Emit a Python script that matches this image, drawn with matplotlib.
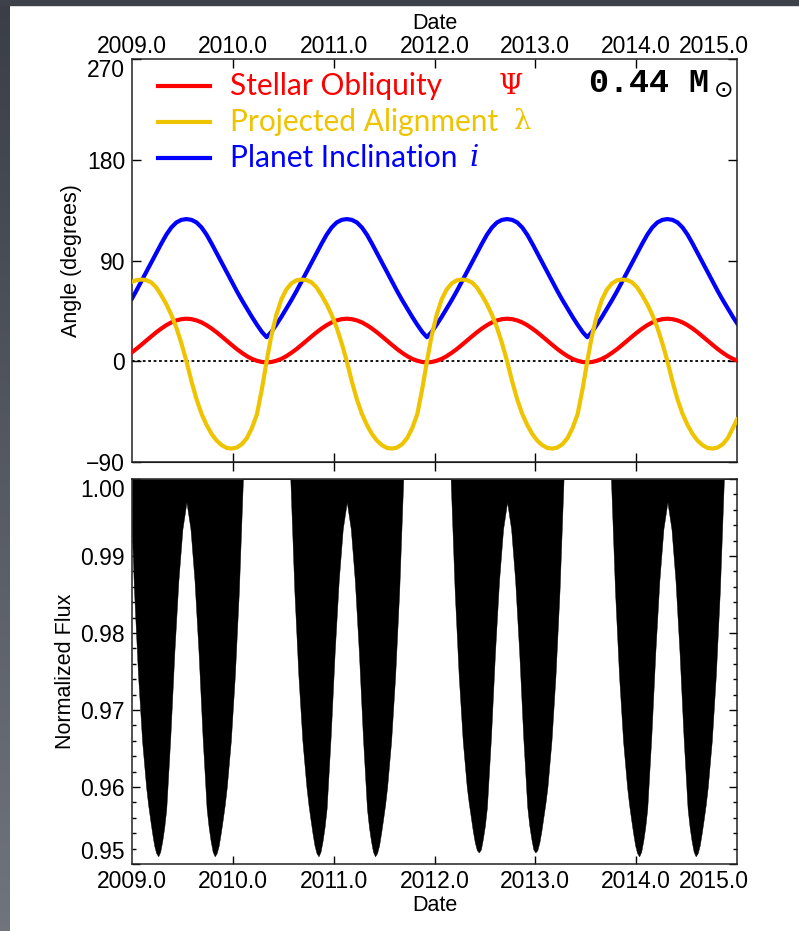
import numpy as np
import matplotlib
matplotlib.use('Agg')
import matplotlib.pyplot as plt
from matplotlib.patches import Rectangle
from matplotlib.ticker import MultipleLocator

plt.rcParams['font.family'] = 'Liberation Sans'

# Angles (degrees), one date list shared by all three curves
dates = [2009.00, 2009.04, 2009.09, 2009.14, 2009.19, 2009.24, 2009.29, 2009.34, 2009.39, 2009.44,
         2009.49, 2009.54, 2009.59, 2009.64, 2009.69, 2009.74, 2009.79, 2009.84, 2009.89, 2009.94,
         2009.99, 2010.04, 2010.09, 2010.14, 2010.19, 2010.24, 2010.29, 2010.335,
         2010.38, 2010.43, 2010.48, 2010.53, 2010.58, 2010.63, 2010.68, 2010.73, 2010.78, 2010.83,
         2010.88, 2010.93, 2010.98, 2011.03, 2011.08, 2011.13, 2011.18, 2011.23, 2011.28, 2011.33,
         2011.38, 2011.43, 2011.48, 2011.53, 2011.58, 2011.63, 2011.68, 2011.73, 2011.78, 2011.83,
         2011.88, 2011.925,
         2011.97, 2012.02, 2012.07, 2012.12, 2012.17, 2012.22, 2012.27, 2012.32, 2012.37, 2012.42,
         2012.47, 2012.52, 2012.57, 2012.62, 2012.67, 2012.72, 2012.77, 2012.82, 2012.87, 2012.92,
         2012.97, 2013.02, 2013.07, 2013.12, 2013.17, 2013.22, 2013.27, 2013.32, 2013.37, 2013.42,
         2013.47, 2013.515,
         2013.56, 2013.61, 2013.66, 2013.71, 2013.76, 2013.81, 2013.86, 2013.91, 2013.96, 2014.01,
         2014.06, 2014.11, 2014.16, 2014.21, 2014.26, 2014.31, 2014.36, 2014.41, 2014.46, 2014.51,
         2014.56, 2014.61, 2014.66, 2014.71, 2014.76, 2014.81, 2014.86, 2014.91, 2014.96, 2015.00]

# planet inclination i (blue)
inclination = [56, 62.5, 71, 79.5, 88, 96.5, 105, 113, 119.5, 124, 126.3, 127, 126.3, 124, 119.5,
               113, 105, 96.5, 88, 79.5, 71, 62.5, 54.5, 47, 39.5, 32.5, 26, 21.5,
               26, 32.5, 39.5, 47, 54.5, 62.5, 71, 79.5, 88, 96.5, 105, 113, 119.5, 124, 126.3, 127,
               126.3, 124, 119.5, 113, 105, 96.5, 88, 79.5, 71, 62.5, 54.5, 47, 39.5, 32.5, 26, 21.5,
               26, 32.5, 39.5, 47, 54.5, 62.5, 71, 79.5, 88, 96.5, 105, 113, 119.5, 124, 126.3, 127,
               126.3, 124, 119.5, 113, 105, 96.5, 88, 79.5, 71, 62.5, 54.5, 47, 39.5, 32.5, 26, 21.5,
               26, 32.5, 39.5, 47, 54.5, 62.5, 71, 79.5, 88, 96.5, 105, 113, 119.5, 124, 126.3, 127,
               126.3, 124, 119.5, 113, 105, 96.5, 88, 79.5, 71, 62.5, 54.5, 47, 39.5, 34]

# stellar obliquity Psi (red)
obliquity = [8.1, 10.8, 14.5, 18.3, 22.1, 25.8, 29.2, 32.2, 34.7, 36.5, 37.6, 38, 37.6, 36.5, 34.7,
             32.2, 29.2, 25.8, 22.1, 18.3, 14.5, 10.8, 7.5, 4.5, 2.1, 0.4, -0.7, -1.0,
             -0.7, 0.4, 2.1, 4.5, 7.5, 10.8, 14.5, 18.3, 22.1, 25.8, 29.2, 32.2, 34.7, 36.5, 37.6, 38,
             37.6, 36.5, 34.7, 32.2, 29.2, 25.8, 22.1, 18.3, 14.5, 10.8, 7.5, 4.5, 2.1, 0.4, -0.7, -1.0,
             -0.7, 0.4, 2.1, 4.5, 7.5, 10.8, 14.5, 18.3, 22.1, 25.8, 29.2, 32.2, 34.7, 36.5, 37.6, 38,
             37.6, 36.5, 34.7, 32.2, 29.2, 25.8, 22.1, 18.3, 14.5, 10.8, 7.5, 4.5, 2.1, 0.4, -0.7, -1.0,
             -0.7, 0.4, 2.1, 4.5, 7.5, 10.8, 14.5, 18.3, 22.1, 25.8, 29.2, 32.2, 34.7, 36.5, 37.6, 38,
             37.6, 36.5, 34.7, 32.2, 29.2, 25.8, 22.1, 18.3, 14.5, 10.8, 7.5, 4.5, 2.1, 0.7]

# projected alignment lambda (yellow)
alignment = [71, 72.3, 73, 72.5, 70.5, 66, 59, 51, 41.5, 30, 16, 0, -18, -34, -47, -57, -65, -71,
             -75, -77.5, -78, -77, -74, -68.5, -59.5, -47, -24, 0,
             22, 41, 55, 64, 69.5, 72.3, 73, 72.5, 70.5, 66, 59, 51, 41.5, 30, 16, 0, -18, -34,
             -47, -57, -65, -71, -75, -77.5, -78, -77, -74, -68.5, -59.5, -47, -24, 0,
             22, 41, 55, 64, 69.5, 72.3, 73, 72.5, 70.5, 66, 59, 51, 41.5, 30, 16, 0, -18, -34,
             -47, -57, -65, -71, -75, -77.5, -78, -77, -74, -68.5, -59.5, -47, -24, 0,
             22, 41, 55, 64, 69.5, 72.3, 73, 72.5, 70.5, 66, 59, 51, 41.5, 30, 16, 0, -18, -34,
             -47, -57, -65, -71, -75, -77.5, -78, -77, -74, -68.5, -59.5, -52]

# lower envelope of the transit light curve (bottom panel), filled up to 1.0
flux_dates = [2009.00, 2009.02, 2009.06, 2009.10, 2009.14, 2009.16, 2009.18, 2009.20, 2009.22, 2009.24,
              2009.26, 2009.28, 2009.30, 2009.32, 2009.34, 2009.38, 2009.42, 2009.46, 2009.50, 2009.54,
              2009.58, 2009.62, 2009.66, 2009.70, 2009.74, 2009.76, 2009.78, 2009.80, 2009.82, 2009.84,
              2009.86, 2009.88, 2009.90, 2009.92, 2009.94, 2009.98, 2010.02, 2010.06, 2010.10,
              2010.57, 2010.61, 2010.65, 2010.69, 2010.73, 2010.75, 2010.77, 2010.79, 2010.81, 2010.83,
              2010.85, 2010.87, 2010.89, 2010.91, 2010.93, 2010.97, 2011.01, 2011.05, 2011.09, 2011.13,
              2011.17, 2011.21, 2011.25, 2011.29, 2011.33, 2011.35, 2011.37, 2011.39, 2011.41, 2011.43,
              2011.45, 2011.47, 2011.49, 2011.51, 2011.53, 2011.57, 2011.61, 2011.65, 2011.69,
              2012.16, 2012.20, 2012.24, 2012.28, 2012.32, 2012.34, 2012.36, 2012.38, 2012.40, 2012.42,
              2012.44, 2012.46, 2012.48, 2012.50, 2012.52, 2012.56, 2012.60, 2012.64, 2012.68, 2012.72,
              2012.76, 2012.80, 2012.84, 2012.88, 2012.92, 2012.94, 2012.96, 2012.98, 2013.00, 2013.02,
              2013.04, 2013.06, 2013.08, 2013.10, 2013.12, 2013.16, 2013.20, 2013.24, 2013.28,
              2013.75, 2013.79, 2013.83, 2013.87, 2013.91, 2013.93, 2013.95, 2013.97, 2013.99, 2014.01,
              2014.03, 2014.05, 2014.07, 2014.09, 2014.11, 2014.15, 2014.19, 2014.23, 2014.27, 2014.31,
              2014.35, 2014.39, 2014.43, 2014.47, 2014.51, 2014.53, 2014.55, 2014.57, 2014.59, 2014.61,
              2014.63, 2014.65, 2014.67, 2014.69, 2014.71, 2014.75, 2014.79, 2014.83, 2014.87, 2015.00]
flux_low = [0.993, 0.9855, 0.9745, 0.966, 0.960, 0.9577, 0.9558, 0.954, 0.9524, 0.9514,
            0.951, 0.9516, 0.953, 0.9548, 0.9572, 0.9665, 0.9775, 0.9868, 0.9935, 0.997,
            0.9935, 0.9868, 0.9775, 0.9665, 0.9572, 0.9548, 0.953, 0.9516, 0.951, 0.9514,
            0.9524, 0.954, 0.9558, 0.9577, 0.960, 0.966, 0.9745, 0.9855, 1.0,
            1.0, 0.9855, 0.9745, 0.966, 0.960, 0.9577, 0.9558, 0.954, 0.9524, 0.9514,
            0.951, 0.9516, 0.953, 0.9548, 0.9572, 0.9665, 0.9775, 0.9868, 0.9935, 0.997,
            0.9935, 0.9868, 0.9775, 0.9665, 0.9572, 0.9548, 0.953, 0.9516, 0.951, 0.9514,
            0.9524, 0.954, 0.9558, 0.9577, 0.960, 0.966, 0.9745, 0.9855, 1.0,
            1.0, 0.9855, 0.9745, 0.966, 0.960, 0.9579, 0.9561, 0.9543, 0.9528, 0.9518,
            0.9515, 0.9519, 0.9533, 0.9550, 0.9574, 0.9665, 0.9775, 0.9868, 0.9935, 0.997,
            0.9935, 0.9868, 0.9775, 0.9665, 0.9574, 0.9550, 0.9533, 0.9519, 0.9515, 0.9518,
            0.9528, 0.9543, 0.9561, 0.9579, 0.960, 0.966, 0.9745, 0.9855, 1.0,
            1.0, 0.9855, 0.9745, 0.966, 0.960, 0.9577, 0.9558, 0.954, 0.9524, 0.9514,
            0.951, 0.9516, 0.953, 0.9548, 0.9572, 0.9665, 0.9775, 0.9868, 0.9935, 0.997,
            0.9935, 0.9868, 0.9775, 0.9665, 0.9572, 0.9548, 0.953, 0.9516, 0.951, 0.9514,
            0.9524, 0.954, 0.9558, 0.9577, 0.960, 0.966, 0.9745, 0.9855, 1.0, 1.0]

# tick labels; the last one sits left of the axis end in the original
year_ticks = [2010.0, 2011.0, 2012.0, 2013.0, 2014.0]
year_label_pos = [2009.0, 2010.0, 2011.0, 2012.0, 2013.0, 2014.0, 2014.77]
year_labels = ['2009.0', '2010.0', '2011.0', '2012.0', '2013.0', '2014.0', '2015.0']
angle_ticks = [-90, 0, 90, 180, 270]
flux_ticks = [0.95, 0.96, 0.97, 0.98, 0.99, 1.00]

legend_names = ['Stellar Obliquity', 'Projected Alignment', 'Planet Inclination']
legend_colors = ['#ff0000', '#eec300', '#0000ff']

fig = plt.figure(figsize=(7.99, 9.31), dpi=100, facecolor='white')

# slide background: dark slate strip on the left and along the top
top_col = np.array([58, 62, 70]) / 255.0
bot_col = np.array([112, 116, 124]) / 255.0
grad = np.linspace(0, 1, 200).reshape(-1, 1, 1)
strip_img = top_col * (1 - grad) + bot_col * grad
strip = fig.add_axes([0, 0, 10 / 799, 1])
strip.imshow(strip_img, aspect='auto', extent=[0, 1, 0, 1])
strip.set_axis_off()
fig.patches.append(Rectangle((0, 1 - 5 / 931), 1, 5 / 931, transform=fig.transFigure,
                             color='#3d424a', zorder=0))

left, width = 132 / 799, 605 / 799
ax1 = fig.add_axes([left, 1 - 462 / 931, width, 403 / 931])
ax2 = fig.add_axes([left, 1 - 864 / 931, width, 385 / 931])

# ---- top panel: angles
ax1.axhline(0, color='black', lw=1.3, ls=(0, (1.5, 1.5)), zorder=1)
ax1.plot(dates, inclination, color=legend_colors[2], lw=3, zorder=2)
ax1.plot(dates, obliquity, color=legend_colors[0], lw=3, zorder=3)
ax1.plot(dates, alignment, color=legend_colors[1], lw=3, zorder=4)
ax1.set_xlim(2009.0, 2015.0)
ax1.set_ylim(-90, 270)

ax1.set_xticks(year_label_pos)
ax1.set_xticklabels(year_labels)
ax1.xaxis.tick_top()
ax1.xaxis.set_label_position('top')
ax1.tick_params(axis='x', direction='in', length=6.5, width=1, top=True, bottom=False,
                labeltop=True, labelbottom=False, labelsize=16.5, pad=1)
for t in (ax1.xaxis.get_major_ticks()[0], ax1.xaxis.get_major_ticks()[-1]):
    t.tick1line.set_visible(False)
    t.tick2line.set_visible(False)
ax1.set_xlabel('Date', fontsize=15.5, labelpad=4)

# bottom edge of the top panel has ticks crossing the axis
sec = ax1.secondary_xaxis('bottom')
sec.set_xticks(year_ticks)
sec.tick_params(direction='inout', length=13, width=1, labelbottom=False)

ax1.set_yticks(angle_ticks)
ax1.set_yticklabels(['\u221290', '0', '90', '180', '270'])
ax1.tick_params(axis='y', direction='in', length=6.5, width=1, left=True, right=True,
                labelsize=16.5, pad=5)
ax1.get_yticklabels()[-1].set_va('top')
ax1.set_ylabel('Angle (degrees)', fontsize=15.5)
ax1.yaxis.set_label_coords(-0.082, 0.5)

# legend drawn by hand like the original
rows = [0.933, 0.844, 0.754]
for name, c, yy in zip(legend_names, legend_colors, rows):
    ax1.plot([0.043, 0.129], [yy, yy], color=c, lw=3, transform=ax1.transAxes)
    ax1.text(0.162, yy, name, color=c, fontsize=21.5, family='Lato', va='center',
             transform=ax1.transAxes)
ax1.text(0.626, rows[0], '\u03a8', color=legend_colors[0], fontsize=20, family='DejaVu Serif',
         ha='center', va='center', transform=ax1.transAxes)
ax1.text(0.645, rows[1], '\u03bb', color=legend_colors[1], fontsize=20, family='DejaVu Serif',
         ha='center', va='center', transform=ax1.transAxes)
ax1.text(0.565, rows[2], 'i', color=legend_colors[2], fontsize=21, family='DejaVu Serif',
         style='italic', ha='center', va='center', transform=ax1.transAxes)
ax1.text(0.754, 0.938, '0.44 M$_\\odot$', fontsize=24, family='Liberation Mono',
         weight='bold', va='center', transform=ax1.transAxes)

# ---- bottom panel: light curve
ax2.fill_between(flux_dates, flux_low, 1.0, color='black', lw=0.3)
ax2.set_xlim(2009.0, 2015.0)
ax2.set_ylim(0.95, 1.00)
ax2.set_xticks(year_label_pos)
ax2.set_xticklabels(year_labels)
ax2.tick_params(axis='x', direction='in', length=6, width=1, top=False, bottom=True,
                labelsize=16.5, pad=4)
for t in (ax2.xaxis.get_major_ticks()[0], ax2.xaxis.get_major_ticks()[-1]):
    t.tick1line.set_visible(False)
    t.tick2line.set_visible(False)
ax2.set_xlabel('Date', fontsize=15.5, labelpad=2)

ax2.set_yticks(flux_ticks)
ax2.set_yticklabels(['%.2f' % v for v in flux_ticks])
ax2.yaxis.set_minor_locator(MultipleLocator(0.002))
ax2.tick_params(axis='y', which='major', direction='in', length=5.5, width=1, left=True,
                right=True, labelsize=16.5, pad=5)
ax2.tick_params(axis='y', which='minor', direction='in', length=3, width=1, left=True, right=True)
ax2.get_yticklabels()[-1].set_va('top')
ax2.get_yticklabels()[0].set_va('bottom')
ax2.set_ylabel('Normalized Flux', fontsize=15.5)
ax2.yaxis.set_label_coords(-0.092, 0.5)

for ax in (ax1, ax2):
    for s in ax.spines.values():
        s.set_linewidth(1.1)
        s.set_color('#222222')

fig.savefig('out.png', dpi=100, facecolor=fig.get_facecolor())
